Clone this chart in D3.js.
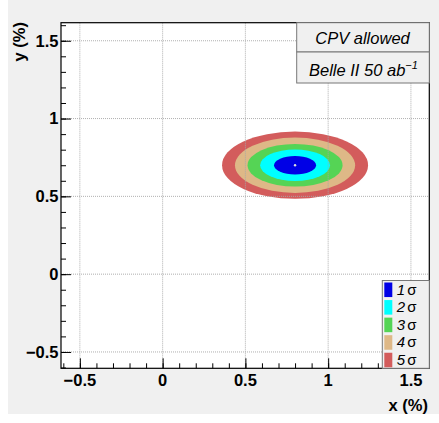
<!DOCTYPE html>
<html>
<head>
<meta charset="utf-8">
<script src="https://cdn.jsdelivr.net/npm/d3@7"></script>
<style>
  html, body { margin: 0; padding: 0; background: #fff; }
  svg { display: block; font-family: "Liberation Sans", Arial, Helvetica, sans-serif; }
</style>
</head>
<body>
<script>
// contour levels, outermost drawn first
const sigmaLabels = ["1", "2", "3", "4", "5"];
const sigmaColours = ["#0000e6", "#00ffff", "#55d455", "#deb887", "#d35c5c"];
const halfWidthX = [0.127, 0.211, 0.287, 0.363, 0.441];
const halfWidthY = [0.059, 0.101, 0.137, 0.178, 0.216];
const centre = [0.8, 0.70];

const xMajor = [-0.5, 0, 0.5, 1, 1.5];
const yMajor = [-0.5, 0, 0.5, 1, 1.5];
const xTickLabels = ["\u22120.5", "0", "0.5", "1", "1.5"];
const yTickLabels = ["\u22120.5", "0", "0.5", "1", "1.5"];
const minorTicks = d3.range(-6, 17).map(d => d / 10);

const width = 439, height = 423;
const frame = { left: 61, right: 429.3, top: 22.7, bottom: 368.3 };

const x = d3.scaleLinear().domain([-0.614, 1.611]).range([frame.left, frame.right]);
const y = d3.scaleLinear().domain([-0.605, 1.616]).range([frame.bottom, frame.top]);

const svg = d3.select("body").append("svg")
    .attr("width", width)
    .attr("height", height);

svg.append("rect")
    .attr("x", 8).attr("y", 0)
    .attr("width", width - 8).attr("height", 414)
    .attr("fill", "#f0f0f0");

svg.append("rect")
    .attr("x", frame.left).attr("y", frame.top)
    .attr("width", frame.right - frame.left)
    .attr("height", frame.bottom - frame.top)
    .attr("fill", "#fff");

// contours
const levels = d3.range(sigmaLabels.length).reverse();
svg.append("g")
    .selectAll("ellipse")
    .data(levels)
    .enter()
    .append("ellipse")
    .attr("cx", x(centre[0]))
    .attr("cy", y(centre[1]))
    .attr("rx", i => x(centre[0] + halfWidthX[i]) - x(centre[0]))
    .attr("ry", i => y(centre[1]) - y(centre[1] + halfWidthY[i]))
    .attr("fill", i => sigmaColours[i]);

svg.append("circle")
    .attr("cx", x(centre[0]))
    .attr("cy", y(centre[1]))
    .attr("r", 1.2)
    .attr("fill", "#ddd");

// grid
const grid = svg.append("g")
    .attr("stroke", "#a8a8a8")
    .attr("stroke-width", 1)
    .attr("stroke-dasharray", "1,1")
    .attr("opacity", 0.9);

grid.selectAll(".gx")
    .data(xMajor)
    .enter()
    .append("line")
    .attr("x1", d => x(d)).attr("x2", d => x(d))
    .attr("y1", frame.top).attr("y2", frame.bottom);

grid.selectAll(".gy")
    .data(yMajor)
    .enter()
    .append("line")
    .attr("y1", d => y(d)).attr("y2", d => y(d))
    .attr("x1", frame.left).attr("x2", frame.right);

// axes (ticks pointing inwards)
const xAxis = svg.append("g")
    .attr("transform", "translate(0," + frame.bottom + ")");
xAxis.call(d3.axisTop(x).tickValues(minorTicks).tickSize(5).tickFormat(""));
xAxis.call(g => g.select(".domain").remove());
const xMajorAxis = svg.append("g")
    .attr("transform", "translate(0," + frame.bottom + ")")
    .call(d3.axisTop(x).tickValues(xMajor).tickSize(10).tickFormat(""));
xMajorAxis.select(".domain").remove();

const yAxis = svg.append("g")
    .attr("transform", "translate(" + frame.left + ",0)");
yAxis.call(d3.axisRight(y).tickValues(minorTicks).tickSize(5).tickFormat(""));
yAxis.select(".domain").remove();
const yMajorAxis = svg.append("g")
    .attr("transform", "translate(" + frame.left + ",0)")
    .call(d3.axisRight(y).tickValues(yMajor).tickSize(10).tickFormat(""));
yMajorAxis.select(".domain").remove();

svg.selectAll(".tick line").attr("stroke", "#000").attr("stroke-width", 1);

svg.append("rect")
    .attr("x", frame.left).attr("y", frame.top)
    .attr("width", frame.right - frame.left)
    .attr("height", frame.bottom - frame.top)
    .attr("fill", "none")
    .attr("stroke", "#000")
    .attr("stroke-width", 1.2);

// tick labels
svg.append("g")
    .selectAll("text")
    .data(xMajor)
    .enter()
    .append("text")
    .attr("x", d => x(d))
    .attr("y", 386)
    .attr("text-anchor", "middle")
    .attr("font-size", 16.5)
    .attr("font-weight", "bold")
    .text((d, i) => xTickLabels[i]);

svg.append("g")
    .selectAll("text")
    .data(yMajor)
    .enter()
    .append("text")
    .attr("x", 58.5)
    .attr("y", d => y(d) + 5.9)
    .attr("text-anchor", "end")
    .attr("font-size", 16.5)
    .attr("font-weight", "bold")
    .text((d, i) => yTickLabels[i]);

// axis titles
svg.append("text")
    .attr("x", 428)
    .attr("y", 411)
    .attr("text-anchor", "end")
    .attr("font-size", 16.5)
    .attr("font-weight", "bold")
    .text("x (%)");

svg.append("text")
    .attr("transform", "translate(25,22) rotate(-90)")
    .attr("text-anchor", "end")
    .attr("font-size", 16.5)
    .attr("font-weight", "bold")
    .text("y (%)");

// info boxes
const infoBoxes = [
    { y0: 22.7, y1: 52 },
    { y0: 52, y1: 83 }
];
svg.append("g")
    .selectAll("rect")
    .data(infoBoxes)
    .enter()
    .append("rect")
    .attr("x", 296.7)
    .attr("y", d => d.y0)
    .attr("width", frame.right - 296.7)
    .attr("height", d => d.y1 - d.y0)
    .attr("fill", "#f0f0f0")
    .attr("stroke", "#777")
    .attr("stroke-width", 1);

svg.append("text")
    .attr("x", 362.5)
    .attr("y", 44)
    .attr("text-anchor", "middle")
    .attr("font-size", 16.5)
    .attr("font-style", "italic")
    .text("CPV allowed");

const belle = svg.append("text")
    .attr("x", 309)
    .attr("y", 76)
    .attr("font-size", 16.5)
    .attr("font-style", "italic");
belle.append("tspan").text("Belle II 50 ab");
belle.append("tspan")
    .attr("font-size", 11)
    .attr("dy", -7)
    .text("\u22121");

// sigma legend
const legend = { x0: 382.3, y0: 280.5, y1: 368.3 };
svg.append("rect")
    .attr("x", legend.x0)
    .attr("y", legend.y0)
    .attr("width", frame.right - legend.x0)
    .attr("height", legend.y1 - legend.y0)
    .attr("fill", "#f0f0f0")
    .attr("stroke", "#777")
    .attr("stroke-width", 1);

const rowH = (legend.y1 - legend.y0) / sigmaLabels.length;
const rows = svg.append("g")
    .selectAll("g")
    .data(sigmaLabels)
    .enter()
    .append("g")
    .attr("transform", (d, i) => "translate(" + legend.x0 + "," + (legend.y0 + i * rowH) + ")");

rows.append("rect")
    .attr("x", 2)
    .attr("y", 2)
    .attr("width", 8)
    .attr("height", rowH - 3)
    .attr("fill", (d, i) => sigmaColours[i]);

const labels = rows.append("text")
    .attr("x", 14.5)
    .attr("y", rowH - 3.5)
    .attr("font-size", 15);
labels.append("tspan")
    .attr("font-style", "italic")
    .text(d => d);
labels.append("tspan")
    .attr("dx", 2)
    .text("\u03c3");
</script>
</body>
</html>
